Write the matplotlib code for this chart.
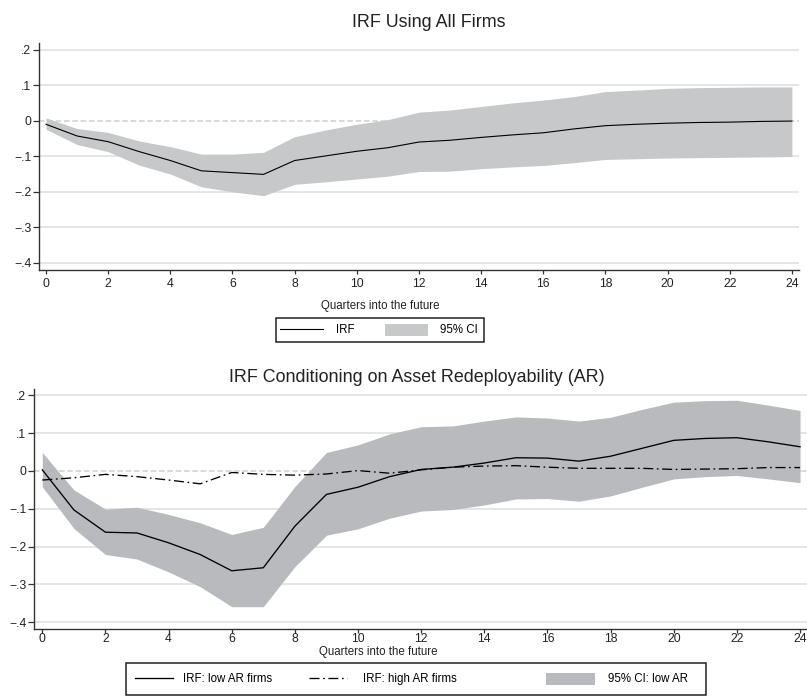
import matplotlib
matplotlib.use("Agg")
import matplotlib.pyplot as plt
from matplotlib.lines import Line2D
from matplotlib.patches import Patch, Rectangle

plt.rcParams["font.family"] = ["Liberation Sans", "DejaVu Sans"]
plt.rcParams["lines.scale_dashes"] = False

# ---- data -------------------------------------------------------------
quarters = list(range(25))
x_ticks = list(range(0, 25, 2))
y_ticks = [0.2, 0.1, 0.0, -0.1, -0.2, -0.3, -0.4]
y_tick_labels = [".2", ".1", "0", "\u2212.1", "\u2212.2", "\u2212.3", "\u2212.4"]

# all firms
all_irf = [-0.010, -0.043, -0.059, -0.087, -0.112, -0.141, -0.146, -0.151,
           -0.112, -0.099, -0.086, -0.076, -0.060, -0.055, -0.047, -0.040,
           -0.034, -0.023, -0.014, -0.010, -0.007, -0.005, -0.004, -0.002, -0.001]
all_ci_hi = [0.008, -0.022, -0.033, -0.057, -0.073, -0.094, -0.094, -0.089,
             -0.045, -0.026, -0.010, 0.003, 0.024, 0.030, 0.040, 0.050,
             0.058, 0.068, 0.082, 0.086, 0.091, 0.093, 0.094, 0.095, 0.095]
all_ci_lo = [-0.024, -0.067, -0.087, -0.125, -0.150, -0.186, -0.200, -0.211,
             -0.179, -0.172, -0.164, -0.156, -0.143, -0.142, -0.135, -0.130,
             -0.126, -0.118, -0.109, -0.107, -0.105, -0.104, -0.103, -0.102, -0.101]

# conditioning on asset redeployability
low_irf = [0.003, -0.103, -0.162, -0.164, -0.190, -0.221, -0.264, -0.256,
           -0.146, -0.062, -0.043, -0.015, 0.004, 0.010, 0.021, 0.035,
           0.034, 0.026, 0.039, 0.060, 0.081, 0.086, 0.088, 0.077, 0.064]
high_irf = [-0.024, -0.018, -0.009, -0.015, -0.024, -0.034, -0.004, -0.009,
            -0.011, -0.008, 0.001, -0.006, 0.003, 0.010, 0.013, 0.014,
            0.010, 0.007, 0.007, 0.007, 0.004, 0.005, 0.006, 0.009, 0.009]
low_ci_hi = [0.049, -0.050, -0.101, -0.096, -0.115, -0.137, -0.168, -0.149,
             -0.041, 0.049, 0.069, 0.098, 0.117, 0.119, 0.132, 0.143,
             0.140, 0.132, 0.142, 0.163, 0.182, 0.186, 0.187, 0.174, 0.160]
low_ci_lo = [-0.042, -0.152, -0.221, -0.233, -0.267, -0.306, -0.359, -0.359,
             -0.253, -0.170, -0.153, -0.125, -0.106, -0.102, -0.090, -0.074,
             -0.073, -0.080, -0.066, -0.043, -0.021, -0.015, -0.012, -0.021, -0.031]

# ---- layout helpers ---------------------------------------------------
W, H = 807, 696
fig = plt.figure(figsize=(W / 100, H / 100), dpi=100)


def fx(px):
    return px / W


def fy(py):
    return 1 - py / H


TICK_FS = 8.8
LABEL_FS = 8.3
TITLE_FS = 12.9
SPINE = "#333333"
GRID = "#dedede"
dashdot = (0, (7.2, 2.6, 1.2, 2.6))


def style_axes(ax, xlim, ylim, tick_pad):
    ax.set_xlim(*xlim)
    ax.set_ylim(*ylim)
    ax.set_xticks(x_ticks)
    ax.set_yticks(y_ticks)
    ax.set_yticklabels(y_tick_labels)
    for s in ("top", "right"):
        ax.spines[s].set_visible(False)
    for s in ("left", "bottom"):
        ax.spines[s].set_color(SPINE)
        ax.spines[s].set_linewidth(1.0)
    ax.tick_params(axis="both", direction="out", width=0.9,
                   color=SPINE, labelsize=TICK_FS, labelcolor="#222222")
    ax.tick_params(axis="x", length=2.6, pad=tick_pad)
    ax.tick_params(axis="y", length=4, pad=1.5)
    ax.set_axisbelow(True)
    ax.grid(True, axis="y", color=GRID, linewidth=1.1)
    for val, gl in zip(y_ticks, ax.yaxis.get_gridlines()):
        if val == 0.0:
            gl.set_linestyle((0, (4, 2)))
            gl.set_color("#d0d0d0")
    ax.patch.set_alpha(0)


def legend_row(entries, y_center, box, fontsize):
    """entries: (handle, label, x_start_px, handlelength, handletextpad)"""
    for handle, label, x0, hl, tp in entries:
        fig.legend([handle], [label], loc="center left",
                   bbox_to_anchor=(fx(x0), fy(y_center)), frameon=False,
                   borderpad=0, borderaxespad=0, handlelength=hl,
                   handleheight=1.25, handletextpad=tp, fontsize=fontsize)
    x0, y0, x1, y1 = box
    fig.add_artist(Rectangle((fx(x0), fy(y1)), fx(x1) - fx(x0), (y1 - y0) / H,
                             transform=fig.transFigure, fill=False,
                             edgecolor="#222222", linewidth=1.1))


# ---- top panel: all firms ----------------------------------------------
ax1 = fig.add_axes([fx(39), fy(270), fx(799) - fx(39), (270 - 43) / H])
style_axes(ax1, (-0.225, 24.23), (-0.42, 0.2186), tick_pad=2.8)
ax1.fill_between(quarters, all_ci_lo, all_ci_hi, color="#c7c8c9",
                 linewidth=0, zorder=2)
ax1.plot(quarters, all_irf, color="black", linewidth=0.8, zorder=3)

fig.text(fx(428.5), fy(27.3), "IRF Using All Firms", ha="center",
         va="baseline", fontsize=TITLE_FS, color="#222222")
fig.text(fx(380), fy(309.3), "Quarters into the future", ha="center",
         va="baseline", fontsize=LABEL_FS, color="#222222")

legend_row([
    (Line2D([], [], color="black", linewidth=0.8), "IRF", 280, 3.73, 1.13),
    (Patch(facecolor="#c7c8c9", edgecolor="none"), "95% CI", 385, 3.73, 1.04),
], 330, (275.7, 318, 484, 342), LABEL_FS)

# ---- bottom panel: low vs high asset redeployability ---------------------
ax2 = fig.add_axes([fx(34), fy(629), fx(807) - fx(34), (629 - 389.3) / H])
style_axes(ax2, (-0.263, 24.22), (-0.418, 0.216), tick_pad=0.2)
ax2.fill_between(quarters, low_ci_lo, low_ci_hi, color="#b9babd",
                 linewidth=0, zorder=2)
ax2.plot(quarters, low_irf, color="black", linewidth=0.95, zorder=3)
ax2.plot(quarters, high_irf, color="black", linewidth=0.95,
         linestyle=dashdot, zorder=3)

fig.text(fx(417), fy(381.7), "IRF Conditioning on Asset Redeployability (AR)",
         ha="center", va="baseline", fontsize=TITLE_FS, color="#222222")
fig.text(fx(378), fy(655), "Quarters into the future", ha="center",
         va="baseline", fontsize=LABEL_FS, color="#222222")

legend_row([
    (Line2D([], [], color="black", linewidth=0.95), "IRF: low AR firms",
     135, 3.3, 0.87),
    (Line2D([], [], color="black", linewidth=0.95, linestyle=dashdot),
     "IRF: high AR firms", 309, 3.3, 1.4),
    (Patch(facecolor="#b9babd", edgecolor="none"), "95% CI: low AR",
     546, 4.25, 1.13),
], 679, (126, 663, 706, 695), LABEL_FS)

fig.savefig("out.png", dpi=100)
